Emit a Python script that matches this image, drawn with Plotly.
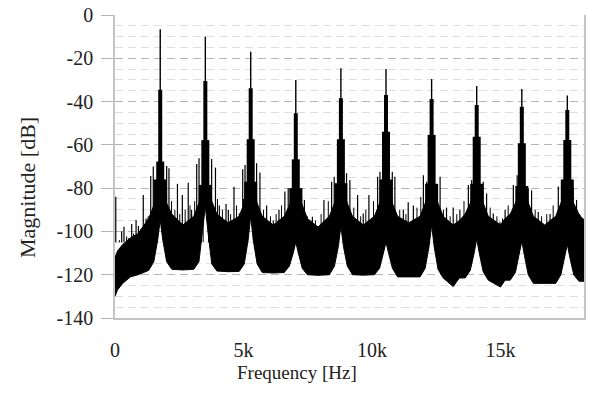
import plotly.graph_objects as go

# ---------------- data ----------------
# harmonic peaks (Hz) and their stepped levels (dB)
harm_freq = [1760, 3515, 5280, 7035, 8790, 10545, 12320, 14075, 15830, 17600]
harm_top = [-6.6, -10.0, -17.0, -30.0, -24.6, -25.0, -29.6, -32.8, -34.2, -37.2]
harm_body = [-34.5, -30.5, -33.9, -45.4, -38.5, -37.0, -38.8, -41.6, -42.4, -43.9]
harm_mid = [-67.7, -57.8, -57.4, -66.7, -57.4, -53.9, -55.4, -56.2, -59.3, -57.8]
harm_skirt = [-76.0, -78.5, -77.0, -80.0, -77.7, -76.0, -78.0, -78.0, -79.0, -76.0]
harm_floor = [-94.7, -88.5, -93.0, -105.0, -97.5, -105.0, -97.0, -103.5, -104.5, -106.0]

# noise band: lower edge and top of the dense mass (dB)
band_freq = [0, 100, 300, 600, 900, 1150, 1310, 1510, 1660, 1760, 1860, 2010, 2210, 2640,
             3065, 3265, 3415, 3515, 3615, 3765, 3965, 4400, 4830, 5030, 5180, 5280, 5380,
             5530, 5730, 6160, 6585, 6785, 6935, 7035, 7135, 7285, 7485, 7900, 8340, 8540,
             8690, 8790, 8890, 9040, 9240, 9660, 10095, 10295, 10445, 10545, 10645, 10795,
             10995, 11430, 11870, 12070, 12220, 12320, 12420, 12570, 12770, 13160, 13400,
             13625, 13825, 13975, 14075, 14175, 14325, 14525, 15000, 15180, 15380, 15580,
             15730, 15830, 15930, 16080, 16280, 16720, 17150, 17350, 17500, 17600, 17700,
             17850, 18050, 18250]
band_low = [-130, -127, -124, -121, -120, -119, -118, -114, -104, -94.7, -104, -114, -117.5,
            -117.8, -117.5, -114, -100, -88.5, -100, -115, -118.3, -118.6, -118.5, -115,
            -104, -93, -104, -115, -119, -119.2, -119, -116, -110, -105, -110, -117, -120,
            -120.3, -120, -116, -107, -97.5, -107, -116, -120, -120.2, -120, -117, -110,
            -105, -110, -117, -121, -121, -121, -117, -107, -97, -107, -117.5, -121.5,
            -125.5, -121.5, -121.5, -118, -110, -103.5, -110, -118.5, -122.5, -125.7,
            -122.5, -122.5, -119, -111, -104.5, -111, -120, -124, -124, -124, -120, -112,
            -106, -112, -120, -123, -123]
band_high = [-112, -109, -106, -103, -101, -97, -94, -88, -80, -74, -80, -87, -92, -97, -93,
             -87, -79, -72, -79, -86, -92, -96, -93, -87, -80, -74, -80, -87, -93, -97, -93,
             -88, -83, -78, -83, -88, -94, -98, -93, -87, -81, -74, -81, -87, -93, -97, -93,
             -87, -82, -76, -82, -87, -93, -96, -93, -87, -81, -74, -81, -87, -93, -97, -95,
             -92, -87, -82, -76, -82, -87, -93, -97, -94, -92, -87, -82, -76, -82, -87, -93,
             -97, -93, -87, -82, -76, -82, -87, -92, -95]

# tall isolated spikes standing above the noise mass
spike_freq = [30, 260, 350, 450, 650, 820, 910, 1100, 1210, 1390, 1490, 2010, 2100, 2430,
              2620, 2850, 2980, 3180, 3270, 3760, 3910, 4060, 4320, 4410, 4630, 4840, 4970,
              5060, 5510, 5640, 5900, 6160, 6380, 6610, 6740, 7260, 7370, 7680, 7910, 8130,
              8430, 8530, 9010, 9140, 9440, 9660, 9880, 10220, 10310, 10790, 10890, 11220,
              11410, 11610, 12000, 12130, 12520, 12650, 12900, 13160, 13420, 13750, 13880,
              14330, 14460, 14720, 14980, 15180, 15500, 15650, 16080, 16210, 16470, 16930,
              17250, 17380, 17830, 17960, 18160]
spike_top = [-84, -100, -97.8, -102.4, -96.6, -94.7, -97.5, -83.2, -94, -74.4, -70, -69.8,
             -70.8, -78, -83.2, -77.5, -90, -68.8, -66.2, -66.5, -70.5, -88, -87.3, -90,
             -79.3, -91.7, -71.3, -69.3, -68.5, -72.8, -88, -95, -90, -81.6, -80, -80.5,
             -85.5, -93.2, -97.8, -85.5, -77, -74.7, -73.1, -76.2, -83.2, -91.7, -83.2,
             -74.7, -72.4, -72.4, -74.7, -90, -86.5, -88, -74, -77, -78.5, -74.7, -89, -89,
             -90, -78.5, -76.2, -77, -82.5, -91.7, -95.5, -90, -78.5, -74, -80, -81, -91,
             -92, -79.2, -83, -80, -85.5, -95.5]

# shorter hair-like spikes on top of the mass
hair_freq = [170, 540, 720, 1000, 1290, 1580, 1650,
             1900, 2200, 2330, 2520, 2730, 2920, 3100, 3360, 3430,
             3640, 3990, 4180, 4500, 4730, 5000, 5160,
             5400, 5780, 6050, 6270, 6480, 6900,
             7160, 7480, 7800, 8020, 8300, 8650,
             8920, 9290, 9560, 9760, 10060, 10420,
             10680, 11080, 11320, 11750, 11900, 12200,
             12450, 12780, 13040, 13300, 13580, 13960,
             14200, 14600, 14860, 15080, 15300, 15720,
             15960, 16350, 16600, 16800, 17050, 17480,
             17720, 18080, 18220]
hair_top = [-104, -103, -101, -99, -93, -82, -78,
            -80, -86, -90, -92, -90, -88, -86, -80, -77,
            -79, -85, -90, -92, -88, -85, -79,
            -80, -90, -93, -92, -88, -82,
            -84, -93, -95, -92, -86, -80,
            -80, -89, -93, -90, -86, -80,
            -80, -90, -92, -89, -84, -79,
            -80, -90, -93, -92, -86, -80,
            -80, -89, -93, -94, -88, -80,
            -80, -90, -93, -92, -88, -80,
            -82, -92, -94]

x_tick_vals = [0, 5000, 10000, 15000]
x_tick_text = ["0", "5k", "10k", "15k"]
y_tick_vals = [-140, -120, -100, -80, -60, -40, -20, 0]
y_tick_text = ["-140", "-120", "-100", "-80", "-60", "-40", "-20", "0"]

# ---------------- figure ----------------
SPIKE_BASE = -105
FONT = "Liberation Serif"
INK = "#000000"
TXT = "#222222"

fig = go.Figure()

# noise band
fig.add_trace(go.Scatter(x=band_freq, y=band_low, mode="lines",
                         line=dict(color=INK, width=1), hoverinfo="skip", showlegend=False))
fig.add_trace(go.Scatter(x=band_freq, y=band_high, mode="lines", fill="tonexty",
                         fillcolor=INK, line=dict(color=INK, width=1),
                         hoverinfo="skip", showlegend=False))


def segments(xs, y0s, y1s):
    sx, sy = [], []
    for x, a, b in zip(xs, y0s, y1s):
        sx += [x, x, None]
        sy += [a, b, None]
    return sx, sy


# hair spikes and tall spikes
sx, sy = segments(hair_freq, [SPIKE_BASE] * len(hair_freq), hair_top)
fig.add_trace(go.Scatter(x=sx, y=sy, mode="lines", line=dict(color=INK, width=1),
                         hoverinfo="skip", showlegend=False))
sx, sy = segments(spike_freq, [SPIKE_BASE] * len(spike_freq), spike_top)
fig.add_trace(go.Scatter(x=sx, y=sy, mode="lines", line=dict(color=INK, width=1.2),
                         hoverinfo="skip", showlegend=False))

# harmonic peaks drawn as stacked strokes of decreasing width
for levels, w in [(harm_skirt, 13), (harm_mid, 8), (harm_body, 4), (harm_top, 1.4)]:
    sx, sy = segments(harm_freq, harm_floor, levels)
    fig.add_trace(go.Scatter(x=sx, y=sy, mode="lines", line=dict(color=INK, width=w),
                             hoverinfo="skip", showlegend=False))

fig.update_layout(
    width=589, height=394,
    margin=dict(l=115, r=5, t=15, b=76),
    paper_bgcolor="white", plot_bgcolor="white",
    font=dict(family=FONT, size=20, color=TXT),
    showlegend=False,
)

fig.update_xaxes(
    range=[0, 18250], tickvals=x_tick_vals, ticktext=x_tick_text, automargin=False,
    showgrid=False, zeroline=False, showline=True, linecolor="#c4c4c4", linewidth=1.5,
    ticks="", ticklabelstandoff=13, tickfont=dict(family=FONT, size=20, color=TXT),
)
fig.update_yaxes(
    range=[-140, 0], tickvals=y_tick_vals, ticktext=y_tick_text, automargin=False,
    showgrid=True, gridcolor="#b4b4b4", griddash="8px,5px", gridwidth=1,
    zeroline=False, showline=True, linecolor="#c4c4c4", linewidth=1.5, mirror=True,
    ticks="outside", ticklen=12, tickcolor="#b4b4b4", tickwidth=1,
    ticklabelstandoff=4, tickfont=dict(family=FONT, size=20, color=TXT),
    minor=dict(dtick=5, showgrid=True, gridcolor="#dedede", griddash="8px,5px", ticks=""),
)

fig.add_annotation(text="Frequency [Hz]", xref="paper", yref="paper",
                   x=(297 - 115) / 469, y=(318 - 372) / 303, showarrow=False,
                   xanchor="center", yanchor="middle",
                   font=dict(family=FONT, size=19, color=TXT))
fig.add_annotation(text="Magnitude [dB]", xref="paper", yref="paper",
                   x=(27 - 115) / 469, y=(318 - 188) / 303, showarrow=False, textangle=-90,
                   xanchor="center", yanchor="middle",
                   font=dict(family=FONT, size=22, color=TXT))

# remove the browser's default 8px body margin so the figure sits at the page origin
fig.write_html("out.html", config={"displayModeBar": False},
               post_script="document.body.style.margin='0px';")
